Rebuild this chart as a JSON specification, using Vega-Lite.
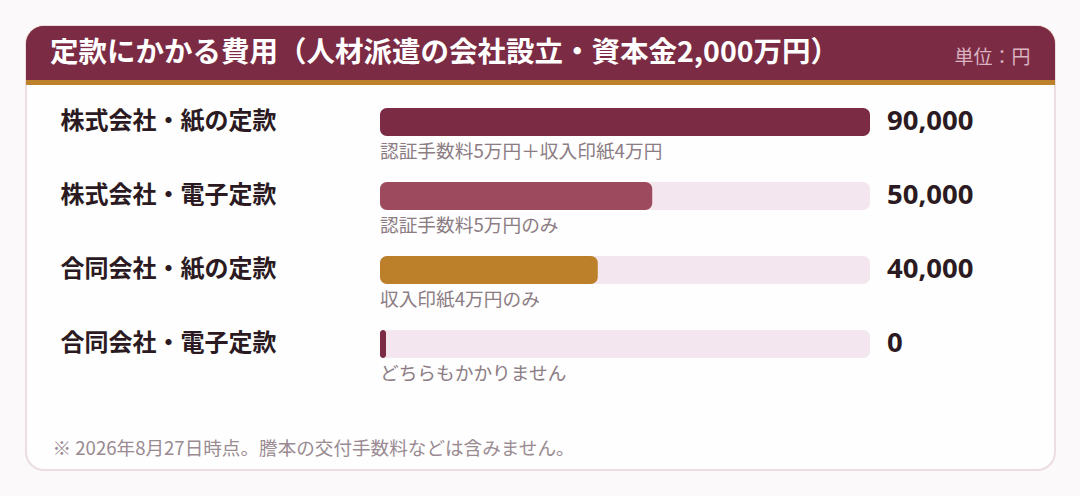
{
  "$schema": "https://vega.github.io/schema/vega-lite/v6.json",
  "width": 1029,
  "height": 444,
  "autosize": {"type": "none"},
  "padding": {"left": 26, "top": 26, "right": 25, "bottom": 26},
  "background": "#fbf9fa",
  "title": {
    "text": "定款にかかる費用（人材派遣の会社設立・資本金2,000万円）",
    "anchor": "start",
    "frame": "group",
    "orient": "top",
    "offset": -55,
    "dx": 24,
    "baseline": "middle",
    "font": "Noto Sans CJK JP",
    "fontSize": 28.5,
    "fontWeight": "bold",
    "color": "#ffffff",
    "zindex": 3
  },
  "data": {
    "values": [
      {"label": "株式会社・紙の定款", "value": 90000, "note": "認証手数料5万円＋収入印紙4万円"},
      {"label": "株式会社・電子定款", "value": 50000, "note": "認証手数料5万円のみ"},
      {"label": "合同会社・紙の定款", "value": 40000, "note": "収入印紙4万円のみ"},
      {"label": "合同会社・電子定款", "value": 0, "note": "どちらもかかりません"}
    ]
  },
  "layer": [
    {
      "data": {"values": [{}]},
      "mark": {"type": "rect", "color": "#bd812b", "cornerRadiusTopLeft": 18, "cornerRadiusTopRight": 18},
      "encoding": {
        "x": {"value": 0},
        "x2": {"value": "width"},
        "y": {"value": 0},
        "y2": {"value": 59}
      }
    },
    {
      "data": {"values": [{}]},
      "mark": {"type": "rect", "color": "#7b2b44", "cornerRadiusTopLeft": 18, "cornerRadiusTopRight": 18},
      "encoding": {
        "x": {"value": 0},
        "x2": {"value": "width"},
        "y": {"value": 0},
        "y2": {"value": 54}
      }
    },
    {
      "mark": {"type": "bar", "color": "#f4e6ee", "height": 28, "cornerRadius": 7},
      "encoding": {
        "y": {"field": "label", "type": "nominal"},
        "x": {"datum": 0, "type": "quantitative"},
        "x2": {"datum": 90000}
      }
    },
    {
      "mark": {"type": "bar", "height": 28, "cornerRadius": 7},
      "encoding": {
        "y": {
          "field": "label",
          "type": "nominal",
          "sort": null,
          "scale": {
            "domain": ["株式会社・紙の定款", "株式会社・電子定款", "合同会社・紙の定款", "合同会社・電子定款"],
            "range": [59, 355],
            "paddingInner": 0,
            "paddingOuter": 0
          },
          "axis": {
            "zindex": 3,
            "title": "単位：円",
            "titleAngle": 0,
            "titleX": 1004,
            "titleY": 31,
            "titleAlign": "right",
            "titleBaseline": "middle",
            "titleFont": "Noto Sans CJK JP",
            "titleFontSize": 19,
            "titleFontWeight": "normal",
            "titleColor": "#dab4c1",
            "domain": false,
            "ticks": false,
            "grid": false,
            "labelAlign": "left",
            "labelBaseline": "middle",
            "labelPadding": -34,
            "labelFont": "Noto Sans CJK JP",
            "labelFontSize": 24,
            "labelFontWeight": "bold",
            "labelColor": "#2b1a22",
            "labelLimit": 300
          }
        },
        "x": {
          "field": "value",
          "type": "quantitative",
          "scale": {"domain": [0, 90000], "range": [354, 844], "nice": false, "zero": true},
          "axis": {
            "title": "※ 2026年8月27日時点。謄本の交付手数料などは含みません。",
            "titleX": 26,
            "titleY": -22,
            "titleAlign": "left",
            "titleAnchor": "start",
            "titleBaseline": "middle",
            "titleFont": "Noto Sans CJK JP",
            "titleFontSize": 18.6,
            "titleFontWeight": "normal",
            "titleColor": "#9a8a92",
            "labels": false,
            "ticks": false,
            "domain": false,
            "grid": false
          }
        },
        "x2": {"datum": 0},
        "color": {
          "field": "label",
          "type": "nominal",
          "scale": {
            "domain": ["株式会社・紙の定款", "株式会社・電子定款", "合同会社・紙の定款", "合同会社・電子定款"],
            "range": ["#7b2b44", "#9e4a5e", "#bc802b", "#7b2b44"]
          },
          "legend": null
        }
      }
    },
    {
      "transform": [{"filter": "datum.value == 0"}],
      "mark": {"type": "bar", "height": 28, "cornerRadius": 3, "color": "#7b2b44", "x2Offset": 6},
      "encoding": {
        "y": {"field": "label", "type": "nominal"},
        "x": {"field": "value", "type": "quantitative"},
        "x2": {"field": "value"}
      }
    },
    {
      "mark": {"type": "text", "align": "left", "baseline": "middle", "dx": 17, "font": "Noto Sans", "fontSize": 27.5, "fontWeight": "bold", "color": "#2b1a22"},
      "encoding": {
        "y": {"field": "label", "type": "nominal"},
        "x": {"datum": 90000, "type": "quantitative"},
        "text": {"field": "value", "type": "quantitative", "format": ","}
      }
    },
    {
      "mark": {"type": "text", "align": "left", "baseline": "middle", "dy": 30, "font": "Noto Sans CJK JP", "fontSize": 18.7, "color": "#8c7c84"},
      "encoding": {
        "y": {"field": "label", "type": "nominal"},
        "x": {"datum": 0, "type": "quantitative"},
        "text": {"field": "note", "type": "nominal"}
      }
    }
  ],
  "config": {
    "view": {"fill": "#fdfefd", "stroke": "#ecdde2", "strokeWidth": 2, "cornerRadius": 18}
  }
}
